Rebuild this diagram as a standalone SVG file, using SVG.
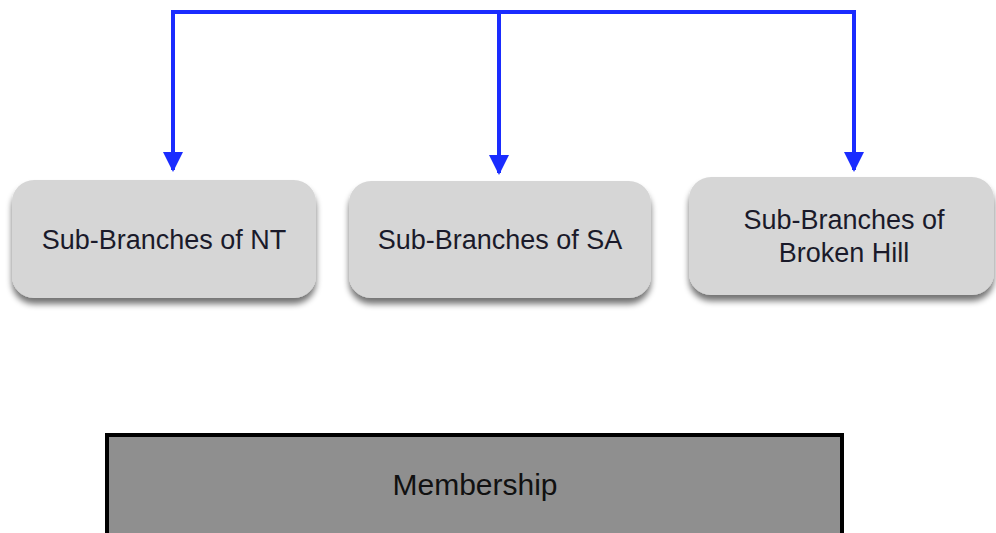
<svg xmlns="http://www.w3.org/2000/svg" width="996" height="533" viewBox="0 0 996 533">
<defs>
<style>
.box{fill:#d6d6d6;filter:url(#sh)}
.lbl{font-family:"Liberation Sans",Arial,sans-serif;font-size:27px;fill:#1a1a2a;text-anchor:middle}
.conn{fill:none;stroke:#1a2cff;stroke-width:4}
</style>
<filter id="sh" x="-10%" y="-10%" width="120%" height="130%">
<feGaussianBlur in="SourceAlpha" stdDeviation="3"/>
<feOffset dx="0" dy="6" result="b"/>
<feComponentTransfer><feFuncA type="linear" slope="0.55"/></feComponentTransfer>
<feMerge><feMergeNode/><feMergeNode in="SourceGraphic"/></feMerge>
</filter>
<marker id="ah" viewBox="0 0 10 10" refX="9" refY="5" markerWidth="5" markerHeight="5" orient="auto" markerUnits="strokeWidth">
<path d="M0,0 L10,5 L0,10 Z" fill="#1a2cff"/>
</marker>
</defs>
<rect width="996" height="533" fill="#ffffff"/>
<g id="connectors">
<path class="conn" d="M173,12 H856"/>
<path class="conn" d="M173,10 V170" marker-end="url(#ah)"/>
<path class="conn" d="M499,12 V173" marker-end="url(#ah)"/>
<path class="conn" d="M854,10 V170" marker-end="url(#ah)"/>
</g>
<g id="node-nt">
<rect class="box" x="12" y="180" width="304" height="118" rx="22"/>
<text class="lbl" x="164" y="249">Sub-Branches of NT</text>
</g>
<g id="node-sa">
<rect class="box" x="349" y="181" width="302" height="117" rx="22"/>
<text class="lbl" x="500" y="249">Sub-Branches of SA</text>
</g>
<g id="node-bh">
<rect class="box" x="689" y="177" width="305" height="118" rx="22"/>
<text class="lbl" x="844" y="229">Sub-Branches of</text>
<text class="lbl" x="844" y="262">Broken Hill</text>
</g>
<g id="node-membership">
<rect x="107" y="435" width="735" height="100" fill="#8f8f8f" stroke="#000000" stroke-width="4"/>
<text x="475" y="495" font-family="'Liberation Sans',Arial,sans-serif" font-size="30" fill="#111111" text-anchor="middle">Membership</text>
</g>
</svg>
